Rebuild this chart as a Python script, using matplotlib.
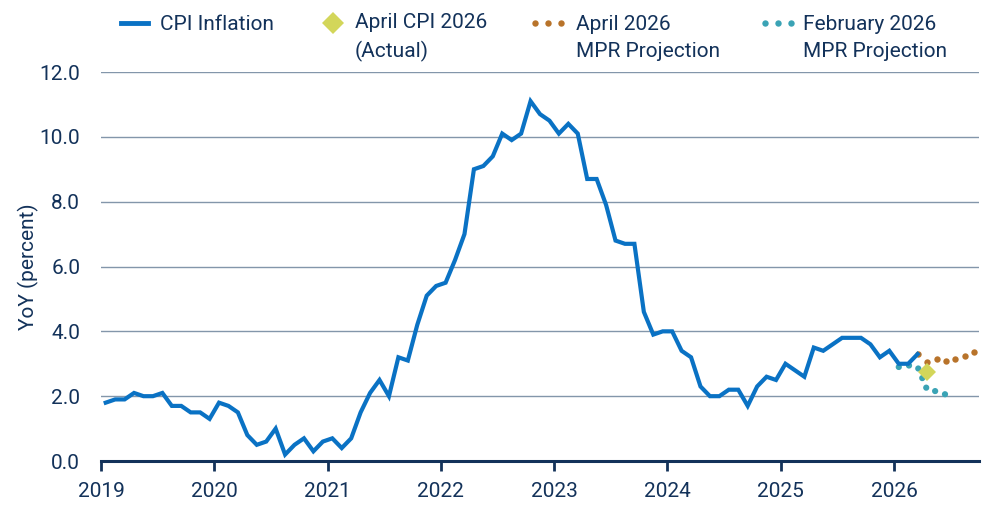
import numpy as np
import matplotlib.pyplot as plt
from matplotlib.lines import Line2D

plt.rcParams['font.family'] = ['Roboto', 'DejaVu Sans']

# CPI inflation, monthly, Jan 2019 - Mar 2026 (YoY %)
cpi = [1.8, 1.9, 1.9, 2.1, 2.0, 2.0, 2.1, 1.7, 1.7, 1.5, 1.5, 1.3,
       1.8, 1.7, 1.5, 0.8, 0.5, 0.6, 1.0, 0.2, 0.5, 0.7, 0.3, 0.6,
       0.7, 0.4, 0.7, 1.5, 2.1, 2.5, 2.0, 3.2, 3.1, 4.2, 5.1, 5.4,
       5.5, 6.2, 7.0, 9.0, 9.1, 9.4, 10.1, 9.9, 10.1, 11.1, 10.7, 10.5,
       10.1, 10.4, 10.1, 8.7, 8.7, 7.9, 6.8, 6.7, 6.7, 4.6, 3.9, 4.0,
       4.0, 3.4, 3.2, 2.3, 2.0, 2.0, 2.2, 2.2, 1.7, 2.3, 2.6, 2.5,
       3.0, 2.8, 2.6, 3.5, 3.4, 3.6, 3.8, 3.8, 3.8, 3.6, 3.2, 3.4,
       3.0, 3.0, 3.3]
cpi_start = (2019, 1)

# April 2026 MPR projection, Mar - Sep 2026
apr_mpr = [3.3, 3.05, 3.15, 3.1, 3.15, 3.25, 3.35]
apr_mpr_start = (2026, 3)

# February 2026 MPR projection, Jan - Jun 2026
feb_mpr = [2.9, 2.95, 2.9, 2.2, 2.15, 2.05]
feb_mpr_start = (2026, 1)

# April 2026 actual
apr_actual = 2.75
apr_actual_month = (2026, 4)

years = list(range(2019, 2027))
yticks = [0, 2, 4, 6, 8, 10, 12]


def month_x(start, n):
    y0, m0 = start
    idx = np.arange(n)
    return y0 + (m0 - 1 + idx + 0.5) / 12.0


BLUE = '#0a72c4'
BROWN = '#b8732a'
TEAL = '#3aa3b5'
LIME = '#d3d65a'
NAVY = '#13325a'
GRID = '#8396aa'

fig = plt.figure(figsize=(10, 5.18), dpi=100)
ax = fig.add_axes([0.101, 0.110, 0.878, 0.751])

ax.plot(month_x(feb_mpr_start, len(feb_mpr)), feb_mpr, color=TEAL, zorder=3,
        linestyle=(0, (0.01, 1.65)), dash_capstyle='round', linewidth=4.5)
ax.plot(month_x(apr_mpr_start, len(apr_mpr)), apr_mpr, color=BROWN, zorder=3,
        linestyle='none', marker='o', markersize=4.6, markeredgewidth=0)
ax.plot(month_x(cpi_start, len(cpi)), cpi, color=BLUE, linewidth=3.0,
        solid_joinstyle='miter', zorder=4)
ax.plot(month_x(apr_actual_month, 1), [apr_actual], marker='D', color=LIME,
        markersize=9.5, markeredgewidth=0, linestyle='none', zorder=5)

ax.set_xlim(2019, 2026.75)
ax.set_ylim(0, 12)
ax.set_xticks(years)
ax.set_xticklabels([str(y) for y in years])
ax.set_yticks(yticks)
ax.set_yticklabels([f"{v:.1f}" for v in yticks])
ax.grid(axis='y', color=GRID, linewidth=1.0)
ax.set_axisbelow(True)
for s in ['top', 'right', 'left']:
    ax.spines[s].set_visible(False)
ax.spines['bottom'].set_color(NAVY)
ax.spines['bottom'].set_linewidth(2.2)
ax.spines['bottom'].set_zorder(6)
ax.tick_params(axis='x', direction='out', length=7, width=2, color=NAVY,
               labelcolor=NAVY, labelsize=15, pad=8)
ax.tick_params(axis='y', length=0, labelcolor=NAVY, labelsize=15, pad=15)
ax.set_ylabel("YoY (percent)", color=NAVY, fontsize=15, labelpad=0)

# legend, laid out by hand along the top
fs = 15
hy = 1 - 23 / 518      # handle centre
by1 = 1 - 30.5 / 518   # baseline of first line
by2 = 1 - 57 / 518     # baseline of second line
tr = fig.transFigure
fig.add_artist(Line2D([0.121, 0.148], [hy, hy], color=BLUE, linewidth=3.5,
                      transform=tr))
fig.text(0.160, by1, "CPI Inflation", color=NAVY, fontsize=fs, va='baseline')
fig.add_artist(Line2D([0.333], [hy], marker='D', color=LIME, markersize=11,
                      markeredgewidth=0, linestyle='none', transform=tr))
fig.text(0.355, by2, "April CPI 2026\n(Actual)", color=NAVY, fontsize=fs,
         va='baseline', linespacing=1.5)
fig.add_artist(Line2D([0.535, 0.548, 0.561], [hy] * 3, color=BROWN, marker='o',
                      markersize=4.6, markeredgewidth=0, linestyle='none',
                      transform=tr))
fig.text(0.576, by2, "April 2026\nMPR Projection", color=NAVY,
         fontsize=fs, va='baseline', linespacing=1.5)
fig.add_artist(Line2D([0.765, 0.778, 0.791], [hy] * 3, color=TEAL, marker='o',
                      markersize=4.6, markeredgewidth=0, linestyle='none',
                      transform=tr))
fig.text(0.803, by2, "February 2026\nMPR Projection", color=NAVY,
         fontsize=fs, va='baseline', linespacing=1.5)

fig.savefig("out.png", dpi=100)
